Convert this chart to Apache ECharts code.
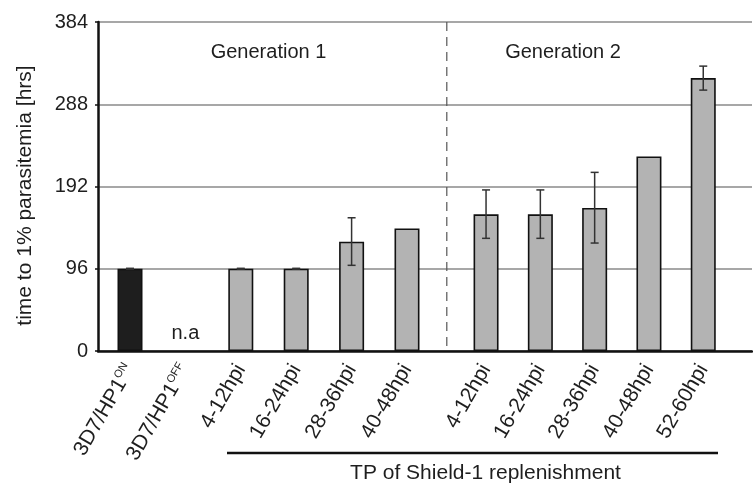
<!DOCTYPE html>
<html><head><meta charset="utf-8">
<script src="https://cdn.jsdelivr.net/npm/echarts@6/dist/echarts.min.js"></script>
<style>html,body{margin:0;padding:0;background:#fff}#c{width:753px;height:486px}</style>
</head><body><div id="c"></div>
<script>
// ---- data ----
const gen1Categories = ['3D7/HP1ON', '3D7/HP1OFF', '4-12hpi', '16-24hpi', '28-36hpi', '40-48hpi'];
const gen1Values = [96, null, 96, 96, 127.5, 143];
const gen1ErrLow = [95.5, null, 95.5, 95.5, 100, null];
const gen1ErrHigh = [96.5, null, 96.5, 96.5, 155.5, null];
const gen2Categories = ['4-12hpi', '16-24hpi', '28-36hpi', '40-48hpi', '52-60hpi'];
const gen2Values = [159.5, 159.5, 167, 227, 318.5];
const gen2ErrLow = [131.5, 131.5, 126, null, 304.5];
const gen2ErrHigh = [188, 188, 208.5, null, 332.5];
const yTickStep = 96;
const yMax = 384;
const groupTitles = ['Generation 1', 'Generation 2'];
const yTitle = 'time to 1% parasitemia [hrs]';
const bracketTitle = 'TP of Shield-1 replenishment';
const missingText = 'n.a';

// ---- layout ----
const W = 753, H = 486;
const TOP = 22, BOTTOM = 135;
const frameLeft = 98, frameRight = 1;
const g1Left = 102.3, g1Width = 332.4;
const g2Left = 458.9, g2Width = 271.5;
const FONT = '"Liberation Sans", Arial, Helvetica, sans-serif';
const txt = '#1e1e1e';
const gray = '#b3b3b3';

const chart = echarts.init(document.getElementById('c'), null, {renderer: 'canvas'});

function barData(vals, darkIndex) {
  return vals.map((v, i) => {
    if (v === null) {
      return {value: 0, itemStyle: {color: 'rgba(0,0,0,0)', borderWidth: 0},
        label: {show: true, formatter: missingText, position: 'top', distance: 8,
          fontSize: 20, fontFamily: FONT, color: txt}};
    }
    if (i === darkIndex) return {value: v, itemStyle: {color: '#1e1e1e'}};
    return v;
  });
}
function errData(lo, hi) {
  const out = [];
  lo.forEach((l, i) => { if (l !== null) out.push([i, l, hi[i]]); });
  return out;
}
function errRender(params, api) {
  const i = api.value(0);
  const lo = api.coord([i, api.value(1)]);
  const hi = api.coord([i, api.value(2)]);
  const c = 4;
  const st = {stroke: '#333', lineWidth: 1.5};
  return {type: 'group', children: [
    {type: 'line', shape: {x1: lo[0], y1: lo[1], x2: hi[0], y2: hi[1]}, style: st},
    {type: 'line', shape: {x1: hi[0] - c, y1: hi[1], x2: hi[0] + c, y2: hi[1]}, style: st},
    {type: 'line', shape: {x1: lo[0] - c, y1: lo[1], x2: lo[0] + c, y2: lo[1]}, style: st}
  ]};
}
const catLabel = {
  interval: 0, rotate: 60, fontSize: 21, fontFamily: FONT, color: txt, margin: 15,
  formatter: function (v) {
    const m = v.match(/^(3D7\/HP1)(ON|OFF)$/);
    return m ? m[1] + '{sup|' + m[2] + '}' : v;
  },
  rich: {sup: {fontSize: 11, fontFamily: FONT, color: txt, padding: [0, 0, 11, 0]}}
};
const hiddenY = {type: 'value', min: 0, max: yMax, interval: yTickStep, show: false};

const gapMid = (g1Left + g1Width + g2Left) / 2;
const plotBottomY = H - BOTTOM;

chart.setOption({
  animation: false,
  backgroundColor: '#fff',
  grid: [
    {left: frameLeft, right: frameRight, top: TOP, bottom: BOTTOM},
    {left: g1Left, width: g1Width, top: TOP, bottom: BOTTOM},
    {left: g2Left, width: g2Width, top: TOP, bottom: BOTTOM}
  ],
  xAxis: [
    {gridIndex: 0, type: 'value', min: 0, max: 1, axisLabel: {show: false}, axisTick: {show: false},
      splitLine: {show: false}, axisLine: {show: true, lineStyle: {color: '#111', width: 2.5}}},
    {gridIndex: 1, type: 'category', data: gen1Categories, axisLine: {show: false}, axisTick: {show: false}, axisLabel: catLabel},
    {gridIndex: 2, type: 'category', data: gen2Categories, axisLine: {show: false}, axisTick: {show: false}, axisLabel: catLabel}
  ],
  yAxis: [
    {gridIndex: 0, type: 'value', min: 0, max: yMax, interval: yTickStep,
      name: yTitle, nameLocation: 'middle', nameGap: 62,
      nameTextStyle: {fontSize: 21, fontFamily: FONT, color: txt, padding: [0, 18, 0, 0]},
      axisLine: {show: true, lineStyle: {color: '#111', width: 2.5}},
      axisTick: {show: true, length: 3, lineStyle: {color: '#111', width: 1.5}},
      axisLabel: {fontSize: 20, fontFamily: FONT, color: txt, margin: 10},
      splitLine: {show: true, lineStyle: {color: '#8a8a8a', width: 1.5}}},
    Object.assign({gridIndex: 1}, hiddenY),
    Object.assign({gridIndex: 2}, hiddenY)
  ],
  series: [
    {type: 'bar', xAxisIndex: 1, yAxisIndex: 1, barWidth: 25, data: barData(gen1Values, 0),
      itemStyle: {color: gray, borderColor: '#111', borderWidth: 1.6}, z: 3},
    {type: 'bar', xAxisIndex: 2, yAxisIndex: 2, barWidth: 25, data: barData(gen2Values, -1),
      itemStyle: {color: gray, borderColor: '#111', borderWidth: 1.6}, z: 3},
    {type: 'custom', xAxisIndex: 1, yAxisIndex: 1, renderItem: errRender, data: errData(gen1ErrLow, gen1ErrHigh), z: 4},
    {type: 'custom', xAxisIndex: 2, yAxisIndex: 2, renderItem: errRender, data: errData(gen2ErrLow, gen2ErrHigh), z: 4}
  ],
  graphic: [
    {type: 'text', x: g1Left + g1Width / 2, y: 52, style: {text: groupTitles[0], fontSize: 20, fontFamily: FONT, fill: txt, textAlign: 'center', textVerticalAlign: 'middle'}},
    {type: 'text', x: 563, y: 52, style: {text: groupTitles[1], fontSize: 20, fontFamily: FONT, fill: txt, textAlign: 'center', textVerticalAlign: 'middle'}},
    {type: 'line', shape: {x1: gapMid, y1: TOP, x2: gapMid, y2: plotBottomY}, style: {stroke: '#555', lineWidth: 1.2, lineDash: [9, 6]}, z: 1},
    {type: 'line', shape: {x1: 227, y1: 453, x2: 718, y2: 453}, style: {stroke: '#111', lineWidth: 2.5}},
    {type: 'text', x: 485.5, y: 473, style: {text: bracketTitle, fontSize: 21, fontFamily: FONT, fill: txt, textAlign: 'center', textVerticalAlign: 'middle'}}
  ]
});
</script></body></html>
